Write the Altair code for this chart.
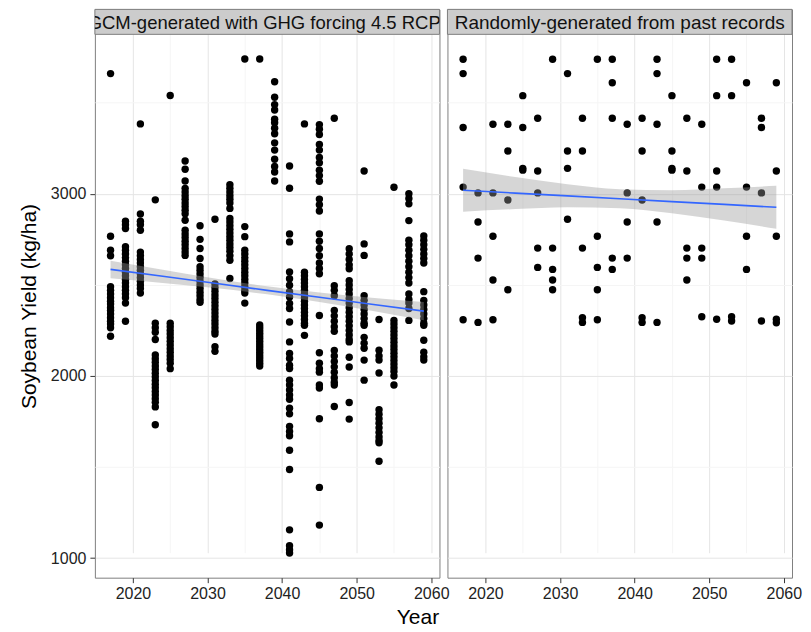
import altair as alt
import pandas as pd

FONT = "Liberation Sans"

# ---------------- data ----------------
years = [2017, 2019, 2021, 2023, 2025, 2027, 2029, 2031, 2033, 2035, 2037,
         2039, 2041, 2043, 2045, 2047, 2049, 2051, 2053, 2055, 2057, 2059]

# Left panel: GCM-generated yields (kg/ha), one list per year
gcm_2017 = [3660, 2767, 2690, 2660, 2490, 2470, 2450, 2430, 2410, 2395, 2375, 2360, 2340, 2320, 2300, 2285, 2265, 2218]
gcm_2019 = [2850, 2830, 2810, 2710, 2690, 2670, 2650, 2630, 2610, 2590, 2570, 2550, 2530, 2510, 2490, 2470, 2450, 2430, 2400, 2300]
gcm_2021 = [3384, 2889, 2850, 2830, 2800, 2680, 2660, 2640, 2620, 2600, 2580, 2560, 2540, 2520, 2500, 2480, 2455]
gcm_2023 = [2967, 2290, 2265, 2240, 2200, 2115, 2095, 2075, 2055, 2035, 2015, 1995, 1975, 1955, 1935, 1915, 1895, 1875, 1855, 1830, 1732]
gcm_2025 = [3540, 2290, 2270, 2250, 2230, 2210, 2190, 2170, 2150, 2130, 2110, 2090, 2070, 2040]
gcm_2027 = [3180, 3135, 3070, 3030, 3010, 2990, 2970, 2950, 2930, 2910, 2890, 2855, 2800, 2780, 2760, 2740, 2720, 2700, 2680, 2662]
gcm_2029 = [2825, 2750, 2700, 2645, 2600, 2580, 2560, 2540, 2520, 2500, 2480, 2460, 2440, 2420, 2405]
gcm_2031 = [2860, 2505, 2485, 2465, 2445, 2425, 2405, 2385, 2365, 2345, 2325, 2305, 2285, 2265, 2245, 2230, 2160, 2135]
gcm_2033 = [3050, 3030, 3010, 2990, 2970, 2950, 2920, 2865, 2845, 2825, 2805, 2785, 2765, 2745, 2725, 2705, 2685, 2660, 2635, 2535]
gcm_2035 = [3740, 2820, 2765, 2690, 2670, 2650, 2630, 2610, 2590, 2570, 2550, 2530, 2510, 2490, 2470, 2455, 2400]
gcm_2037 = [3740, 2280, 2265, 2250, 2235, 2220, 2205, 2190, 2175, 2160, 2145, 2130, 2115, 2100, 2085, 2070, 2055]
gcm_2039 = [3615, 3530, 3490, 3460, 3410, 3390, 3360, 3330, 3280, 3240, 3190, 3150, 3120, 3070]
gcm_2041 = [3153, 3031, 2780, 2736, 2571, 2534, 2498, 2462, 2434, 2398, 2370, 2296, 2187, 2123, 2096, 2059, 2041,
            1977, 1950, 1923, 1896, 1872, 1823, 1792, 1723, 1695, 1672, 1592, 1486, 1155, 1068, 1046, 1028]
gcm_2043 = [3384, 2570, 2550, 2530, 2510, 2490, 2470, 2450, 2430, 2410, 2390, 2370, 2350, 2330, 2310, 2290, 2278, 2223]
gcm_2045 = [3380, 3355, 3326, 3271, 3240, 3200, 3170, 3130, 3100, 3069, 2971, 2940, 2906, 2780, 2740, 2700, 2660,
            2620, 2590, 2561, 2332, 2127, 2070, 2040, 2021, 1950, 1934, 1765, 1388, 1181]
gcm_2047 = [3415, 2495, 2470, 2440, 2360, 2330, 2300, 2270, 2245, 2140, 2110, 2080, 2050, 2020, 1990, 1965, 1950, 1832]
gcm_2049 = [2698, 2670, 2640, 2610, 2589, 2523, 2500, 2475, 2450, 2425, 2400, 2375, 2350, 2325, 2300, 2275, 2250,
            2225, 2200, 2187, 2103, 2049, 1854, 1763]
gcm_2051 = [3125, 2725, 2662, 2440, 2415, 2390, 2365, 2340, 2315, 2290, 2278, 2212, 2180, 2152, 2087, 1977]
gcm_2053 = [2310, 2141, 2110, 2087, 2016, 1814, 1790, 1765, 1740, 1715, 1690, 1665, 1645, 1633, 1532]
gcm_2055 = [3036, 2305, 2285, 2265, 2245, 2225, 2205, 2185, 2165, 2145, 2125, 2105, 2085, 2065, 2045, 2025, 2000, 1950]
gcm_2057 = [3000, 2975, 2945, 2853, 2745, 2720, 2690, 2660, 2630, 2600, 2570, 2540, 2510, 2450, 2420, 2400, 2370, 2305]
gcm_2059 = [2769, 2745, 2720, 2695, 2670, 2645, 2620, 2463, 2414, 2390, 2365, 2340, 2315, 2290, 2278, 2196, 2130, 2105, 2087]

# Right panel: randomly generated from past records, one list per year
rnd_2017 = [3739, 3660, 3364, 3037, 2309]
rnd_2019 = [3005, 2845, 2647, 2294]
rnd_2021 = [3382, 3005, 2767, 2527, 2309]
rnd_2023 = [3382, 3235, 2966, 2473]
rnd_2025 = [3539, 3364, 3140, 3130]
rnd_2027 = [3415, 3125, 3005, 2702, 2596]
rnd_2029 = [3739, 2702, 2585, 2527, 2473]
rnd_2031 = [3660, 3235, 3140, 2860]
rnd_2033 = [3415, 3235, 2702, 2320, 2294]
rnd_2035 = [3739, 2767, 2596, 2473, 2309]
rnd_2037 = [3739, 3610, 3415, 2647, 2585]
rnd_2039 = [3382, 3005, 2845, 2647]
rnd_2041 = [3415, 3235, 2966, 2320, 2294]
rnd_2043 = [3739, 3660, 3382, 2845, 2294]
rnd_2045 = [3539, 3235, 3140, 3130]
rnd_2047 = [3415, 3125, 2702, 2647, 2527]
rnd_2049 = [3382, 3037, 2702, 2647, 2325]
rnd_2051 = [3739, 3539, 3125, 3037, 2311]
rnd_2053 = [3739, 3539, 2325, 2302]
rnd_2055 = [3610, 3037, 2767, 2585]
rnd_2057 = [3415, 3364, 3005, 2302]
rnd_2059 = [3610, 3125, 2767, 2311, 2292]

# Linear smooth with 95% band
smooth_years = [2017, 2024, 2031, 2038, 2045, 2052, 2059]
gcm_fit = [2585, 2547, 2509, 2470, 2432, 2394, 2356]
gcm_lo = [2537, 2511, 2483, 2448, 2406, 2358, 2306]
gcm_hi = [2633, 2583, 2535, 2492, 2458, 2430, 2406]
rnd_fit = [3020, 3004, 2989, 2973, 2957, 2942, 2926]
rnd_lo = [2902, 2916, 2926, 2921, 2894, 2854, 2808]
rnd_hi = [3138, 3092, 3052, 3025, 3020, 3030, 3044]

panel_titles = ["GCM-generated with GHG forcing 4.5 RCP", "Randomly-generated from past records"]
x_major = [2020, 2030, 2040, 2050, 2060]
x_minor = [2025, 2035, 2045, 2055]
y_major = [1000, 2000, 3000]
y_minor = [1500, 2500, 3500]

# ---------------- tables ----------------
gcm_cols = [gcm_2017, gcm_2019, gcm_2021, gcm_2023, gcm_2025, gcm_2027, gcm_2029, gcm_2031,
            gcm_2033, gcm_2035, gcm_2037, gcm_2039, gcm_2041, gcm_2043, gcm_2045, gcm_2047,
            gcm_2049, gcm_2051, gcm_2053, gcm_2055, gcm_2057, gcm_2059]
rnd_cols = [rnd_2017, rnd_2019, rnd_2021, rnd_2023, rnd_2025, rnd_2027, rnd_2029, rnd_2031,
            rnd_2033, rnd_2035, rnd_2037, rnd_2039, rnd_2041, rnd_2043, rnd_2045, rnd_2047,
            rnd_2049, rnd_2051, rnd_2053, rnd_2055, rnd_2057, rnd_2059]

gcm_df = pd.DataFrame([(y, v) for y, col in zip(years, gcm_cols) for v in col], columns=["year", "yield"])
rnd_df = pd.DataFrame([(y, v) for y, col in zip(years, rnd_cols) for v in col], columns=["year", "yield"])
gcm_sm = pd.DataFrame({"year": smooth_years, "fit": gcm_fit, "lo": gcm_lo, "hi": gcm_hi})
rnd_sm = pd.DataFrame({"year": smooth_years, "fit": rnd_fit, "lo": rnd_lo, "hi": rnd_hi})

# ggplot-style 5% expansion of the data range
all_y = list(gcm_df["yield"]) + list(rnd_df["yield"])
ylo, yhi = min(all_y), max(all_y)
ypad = 0.05 * (yhi - ylo)
xlo, xhi = min(years), max(years)
xpad = 0.05 * (xhi - xlo)

W = 345
STRIP = 25
H = 569

x_scale = alt.Scale(domain=[xlo - xpad, xhi + xpad], nice=False, zero=False)
y_scale = alt.Scale(domain=[ylo - ypad, yhi + ypad], range=[H, STRIP], nice=False, zero=False)

GRID_MAJOR = "#E5E5E5"
GRID_MINOR = "#F5F5F5"


def is_major(vals):
    return f"indexof({vals}, datum.value) >= 0"


x_axis = alt.Axis(
    values=sorted(x_major + x_minor), format="d", title=None, domain=False,
    labelExpr=f"{is_major(x_major)} ? datum.label : ''",
    tickOpacity={"condition": {"test": is_major(x_major), "value": 1}, "value": 0},
    gridColor={"condition": {"test": is_major(x_major), "value": GRID_MAJOR}, "value": GRID_MINOR},
    tickSize=5, tickColor="#333333", labelPadding=3,
)


def y_axis(show):
    common = dict(
        values=sorted(y_major + y_minor), domain=False,
        gridColor={"condition": {"test": is_major(y_major), "value": GRID_MAJOR}, "value": GRID_MINOR},
    )
    if show:
        return alt.Axis(
            format="d", title="Soybean Yield (kg/ha)",
            labelExpr=f"{is_major(y_major)} ? datum.label : ''",
            tickOpacity={"condition": {"test": is_major(y_major), "value": 1}, "value": 0},
            tickSize=5, tickColor="#333333", labelPadding=4, titlePadding=11,
            **common,
        )
    return alt.Axis(labels=False, ticks=False, title=None, **common)


def panel(points, smooth, title, show_y, text_dx, text_size):
    ya = y_axis(show_y)
    strip_df = pd.DataFrame({"label": [title]})
    strip = alt.Chart(strip_df).mark_rect(fill="#CCCCCC", stroke="#7F7F7F", strokeWidth=1).encode(
        x=alt.value(0), x2=alt.value(W), y=alt.value(0), y2=alt.value(STRIP)
    )
    strip_text = alt.Chart(strip_df).mark_text(
        font=FONT, fontSize=text_size, color="#111111", clip=True, align="center", baseline="middle",
        dx=text_dx,
    ).encode(x=alt.value(W / 2), y=alt.value(STRIP / 2 + 1), text="label:N")
    pts = alt.Chart(points).mark_circle(size=55, color="black", opacity=1).encode(
        x=alt.X("year:Q", scale=x_scale, axis=x_axis),
        y=alt.Y("yield:Q", scale=y_scale, axis=ya),
    )
    band = alt.Chart(smooth).mark_area(color="#999999", opacity=0.4, interpolate="monotone").encode(
        x=alt.X("year:Q", scale=x_scale, axis=x_axis),
        y=alt.Y("lo:Q", scale=y_scale, axis=ya),
        y2="hi:Q",
    )
    line = alt.Chart(smooth).mark_line(color="#3366FF", strokeWidth=1.6).encode(
        x=alt.X("year:Q", scale=x_scale, axis=x_axis),
        y=alt.Y("fit:Q", scale=y_scale, axis=ya),
    )
    return alt.layer(strip, strip_text, pts, band, line).properties(width=W, height=H)


left = panel(gcm_df, gcm_sm, panel_titles[0], True, -3, 18.5)
right = panel(rnd_df, rnd_sm, panel_titles[1], False, 0, 19)

chart = alt.hconcat(left, right, spacing=8, bounds="flush").properties(
    title=alt.TitleParams(
        "Year", orient="bottom", anchor="middle", fontSize=21, font=FONT,
        fontWeight="normal", color="black", offset=5, dx=8,
    ),
    padding={"left": 9, "top": 0, "right": 0, "bottom": 0},
    background="white",
).configure_view(
    stroke="#7F7F7F", strokeWidth=1
).configure_axis(
    labelFont=FONT, labelFontSize=16, labelColor="#222222",
    titleFont=FONT, titleFontSize=21, titleColor="black", titleFontWeight="normal",
)

chart.save("out.html", embed_options={"renderer": "svg", "actions": False})
